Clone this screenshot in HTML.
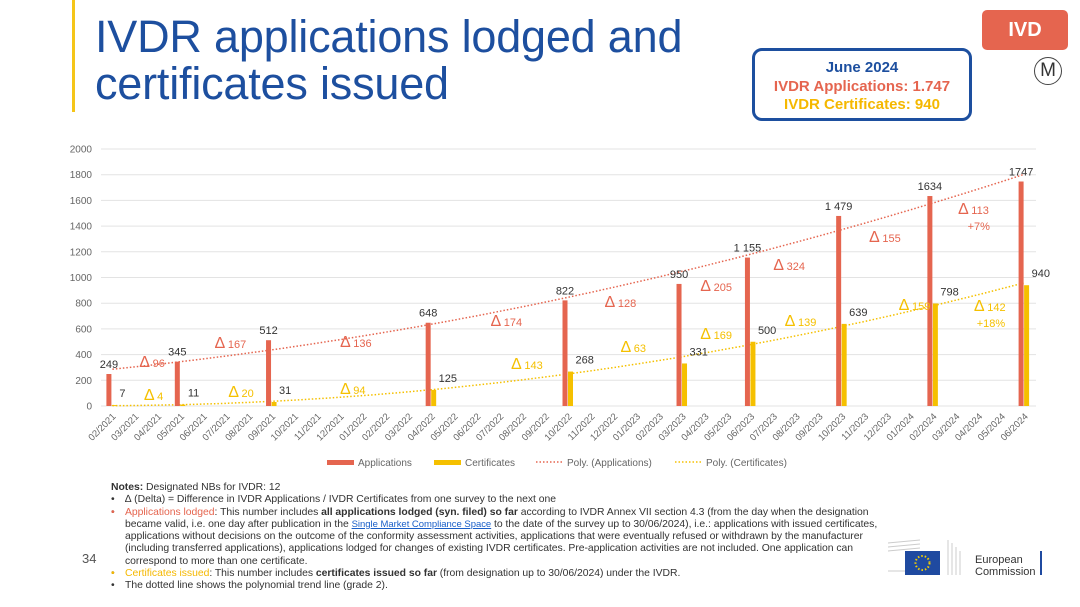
<!DOCTYPE html>
<html><head><meta charset="utf-8">
<style>
body{margin:0;width:1080px;height:607px;background:#fff;font-family:"Liberation Sans",Arial,sans-serif;position:relative;overflow:hidden}
.abs{position:absolute}
#title{left:95px;top:13px;font-size:45px;line-height:47px;color:#1d4f9f;letter-spacing:-0.2px}
#bar-accent{left:72px;top:0;width:3px;height:112px;background:#f5c518}
#ivd{left:982px;top:10px;width:86px;height:40px;background:#e5654f;border-radius:5px;color:#fff;font-weight:bold;font-size:20px;text-align:center;line-height:40px}
#mlogo{left:1034px;top:57px;width:26px;height:26px;border:1.5px solid #444;border-radius:50%;text-align:center;line-height:26px;font-size:19px;color:#333}
#summary{left:752px;top:48px;width:220px;height:73px;border:3px solid #1d4f9f;border-radius:10px;text-align:center;font-weight:bold;font-size:15px;line-height:18.5px;padding-top:8px;box-sizing:border-box}
#notes{left:111px;top:482px;width:800px;font-size:10.4px;line-height:12.3px;color:#333;letter-spacing:-0.03px;white-space:nowrap}
#notes ul{margin:0;padding:0 0 0 14px;list-style:none}
#notes li{position:relative}
#notes li:before{content:"•";position:absolute;left:-14px}
#pagenum{left:82px;top:551px;font-size:13px;color:#555}
</style></head><body>
<div class="abs" id="bar-accent"></div>
<div class="abs" id="title">IVDR applications lodged and<br>certificates issued</div>
<div class="abs" id="ivd">IVD</div>
<div class="abs" id="mlogo">M</div>
<div class="abs" id="summary">
<div style="color:#1d4f9f">June 2024</div>
<div style="color:#e5654f">IVDR Applications: 1.747</div>
<div style="color:#f5b800">IVDR Certificates: 940</div>
</div>
<svg class="abs" style="left:0;top:0" width="1080" height="480" id="chart"></svg>
<div class="abs" id="notes">
<div><b>Notes:</b> Designated NBs for IVDR: 12</div>
<ul>
<li>∆ (Delta) = Difference in IVDR Applications / IVDR Certificates from one survey to the next one</li>
<li><span style="position:absolute;left:-14px;color:#e5654f">•</span><span style="color:#e5654f">Applications lodged</span>: This number includes <b>all applications lodged (syn. filed) so far</b> according to IVDR Annex VII section 4.3 (from the day when the designation<br>became valid, i.e. one day after publication in the <a href="#" style="color:#1a5fc8;font-size:9.5px">Single Market Compliance Space</a> to the date of the survey up to 30/06/2024), i.e.: applications with issued certificates,<br>applications without decisions on the outcome of the conformity assessment activities, applications that were eventually refused or withdrawn by the manufacturer<br>(including transferred applications), applications lodged for changes of existing IVDR certificates. Pre-application activities are not included. One application can<br>correspond to more than one certificate.</li>
<li><span style="position:absolute;left:-14px;color:#f5b800">•</span><span style="color:#f5b800">Certificates issued</span>: This number includes <b>certificates issued so far</b> (from designation up to 30/06/2024) under the IVDR.</li>
<li>The dotted line shows the polynomial trend line (grade 2).</li>
</ul></div>
<div class="abs" id="pagenum">34</div>
<svg class="abs" style="left:880px;top:535px" width="200" height="45">
<g stroke="#ccc" stroke-width="1"><line x1="8" y1="8" x2="40" y2="5"/><line x1="8" y1="12" x2="40" y2="9"/><line x1="8" y1="16" x2="40" y2="13"/><line x1="8" y1="36" x2="40" y2="36"/><line x1="68" y1="5" x2="68" y2="40"/><line x1="72" y1="8" x2="72" y2="40"/><line x1="76" y1="12" x2="76" y2="40"/><line x1="80" y1="16" x2="80" y2="40"/></g>
<rect x="25" y="16" width="35" height="24" fill="#1f4aa0"/>
<circle cx="42.5" cy="28" r="7" fill="none" stroke="#f5d000" stroke-width="2" stroke-dasharray="1.5 2"/>
<text x="95" y="28" font-size="11" fill="#333" font-family="Liberation Sans">European</text>
<text x="95" y="40" font-size="11" fill="#333" font-family="Liberation Sans">Commission</text>
<rect x="160" y="16" width="2" height="24" fill="#1f4aa0"/>
</svg>
<script>
const months=["02/2021","03/2021","04/2021","05/2021","06/2021","07/2021","08/2021","09/2021","10/2021","11/2021","12/2021","01/2022","02/2022","03/2022","04/2022","05/2022","06/2022","07/2022","08/2022","09/2022","10/2022","11/2022","12/2022","01/2023","02/2023","03/2023","04/2023","05/2023","06/2023","07/2023","08/2023","09/2023","10/2023","11/2023","12/2023","01/2024","02/2024","03/2024","04/2024","05/2024","06/2024"];
const surveyMonths=["02/2021","05/2021","09/2021","04/2022","10/2022","03/2023","06/2023","10/2023","02/2024","06/2024"];
const applications=[249,345,512,648,822,950,1155,1479,1634,1747];
const certificates=[7,11,31,125,268,331,500,639,798,940];
const appLabels=["249","345","512","648","822","950","1 155","1 479","1634","1747"];
const yTicks=[0,200,400,600,800,1000,1200,1400,1600,1800,2000];
const appDeltas=[96,167,136,174,128,205,324,155,113];
const appDeltaPos=[1.2,4.5,10,16.6,21.6,25.8,29,33.2,37.1];
const appDeltaLevel=[342,490,498,661,809,934,1097,1315,1533];
const certDeltas=[4,20,94,143,63,169,139,159,142];
const certDeltaPos=[1.4,5.1,10,17.5,22.3,25.8,29.5,34.5,37.8];
const certDeltaLevel=[86,109,132,327,459,560,661,786,778];

const svg=document.getElementById('chart');const NS='http://www.w3.org/2000/svg';
const X0=101,X1=1036,Y0=406,Y1=149,YMAX=2000;
const step=(X1-X0)/months.length;
const xc=i=>X0+step*(i+0.5);
const y=v=>Y0-(v/YMAX)*(Y0-Y1);
function mk(tag,attrs,parent){const e=document.createElementNS(NS,tag);for(const k in attrs)e.setAttribute(k,attrs[k]);(parent||svg).appendChild(e);return e;}
function txt(s,attrs){const t=mk('text',Object.assign({'font-family':'Liberation Sans, sans-serif'},attrs));t.textContent=s;return t;}
yTicks.forEach(v=>{
 const l=mk('line',{x1:X0,x2:X1,y1:y(v),y2:y(v),stroke:'#e3e3e3','stroke-width':1});
 
 
 const t=txt(String(v),{x:92,y:y(v)+3.5,'font-size':10,fill:'#666','text-anchor':'end'});
 
 
});
months.forEach((m,i)=>{
 const t=txt(m,{x:0,y:0,'font-size':9.5,fill:'#666','text-anchor':'end',transform:`translate(${xc(i)+4},${Y0+11}) rotate(-45)`});
 
 
});
function fit(xs,ys){let S=[0,0,0,0,0],T=[0,0,0];xs.forEach((x,k)=>{for(let p=0;p<5;p++)S[p]+=Math.pow(x,p);for(let p=0;p<3;p++)T[p]+=ys[k]*Math.pow(x,p);});
 const A=[[S[0],S[1],S[2],T[0]],[S[1],S[2],S[3],T[1]],[S[2],S[3],S[4],T[2]]];
 for(let c=0;c<3;c++){for(let r=c+1;r<3;r++){const f=A[r][c]/A[c][c];for(let k=c;k<4;k++)A[r][k]-=f*A[c][k];}}
 const b=[0,0,0];for(let r=2;r>=0;r--){let s=A[r][3];for(let k=r+1;k<3;k++)s-=A[r][k]*b[k];b[r]=s/A[r][r];}return b;}
const idx=surveyMonths.map(m=>months.indexOf(m));
[[applications,'#e5654f','trend-applications'],[certificates,'#f5c000','trend-certificates']].forEach(([vals,col,name])=>{
 const b=fit(idx,vals);let d='';for(let i=0;i<=40;i+=0.5){const v=b[0]+b[1]*i+b[2]*i*i;d+=(i?'L':'M')+xc(i).toFixed(1)+','+y(v).toFixed(1);}
 const p=mk('path',{d,fill:'none',stroke:col,'stroke-width':1.5,'stroke-dasharray':'1.5 2'});
 
 
});
idx.forEach((i,k)=>{
 const ra=mk('rect',{x:xc(i)-6,y:y(applications[k]),width:5,height:Y0-y(applications[k]),fill:'#e5654f'});
 
 
 const rc=mk('rect',{x:xc(i)-0.5,y:y(certificates[k]),width:5,height:Y0-y(certificates[k]),fill:'#f5c000'});
 
 
 const ta=txt(appLabels[k],{x:xc(i)-3.5,y:y(applications[k])-6,'font-size':11,fill:'#333','text-anchor':'middle'});
 
 
 const tc=txt(String(certificates[k]),{x:xc(i)+7,y:y(certificates[k])-8,'font-size':11,fill:'#333'});
 
 
});
function deltas(vals,pos,lvl,col,name){vals.forEach((v,k)=>{
 const t=txt('',{x:xc(pos[k]),y:y(lvl[k])+5,'font-size':11,fill:col});
 t.innerHTML='<tspan font-size="16">∆</tspan> '+v;
 
 
});}
deltas(appDeltas,appDeltaPos,appDeltaLevel,'#e5654f','delta-applications');
deltas(certDeltas,certDeltaPos,certDeltaLevel,'#f5c000','delta-certificates');
const p1=txt('+7%',{x:xc(37.5),y:y(1533)+21,'font-size':11,fill:'#e5654f'});


const p2=txt('+18%',{x:xc(37.9),y:y(778)+21,'font-size':11,fill:'#f5c000'});


const LY=462;
[['rect',327,'#e5654f','Applications','legend-applications'],['rect',434,'#f5c000','Certificates','legend-certificates'],['dash',536,'#e5654f','Poly. (Applications)','legend-trend-applications'],['dash',675,'#f5c000','Poly. (Certificates)','legend-trend-certificates']].forEach(([k,x,c,s,n])=>{
 const g=mk('g',{});
 
 
 if(k==='rect')mk('rect',{x,y:LY-2,width:27,height:5,fill:c},g);
 else mk('line',{x1:x,x2:x+28,y1:LY,y2:LY,stroke:c,'stroke-width':1.5,'stroke-dasharray':'1.5 2'},g);
 const t=document.createElementNS(NS,'text');t.setAttribute('x',x+31);t.setAttribute('y',LY+4);t.setAttribute('font-size',10);t.setAttribute('fill','#666');t.setAttribute('font-family','Liberation Sans, sans-serif');t.textContent=s;g.appendChild(t);
});
</script>
</body></html>
